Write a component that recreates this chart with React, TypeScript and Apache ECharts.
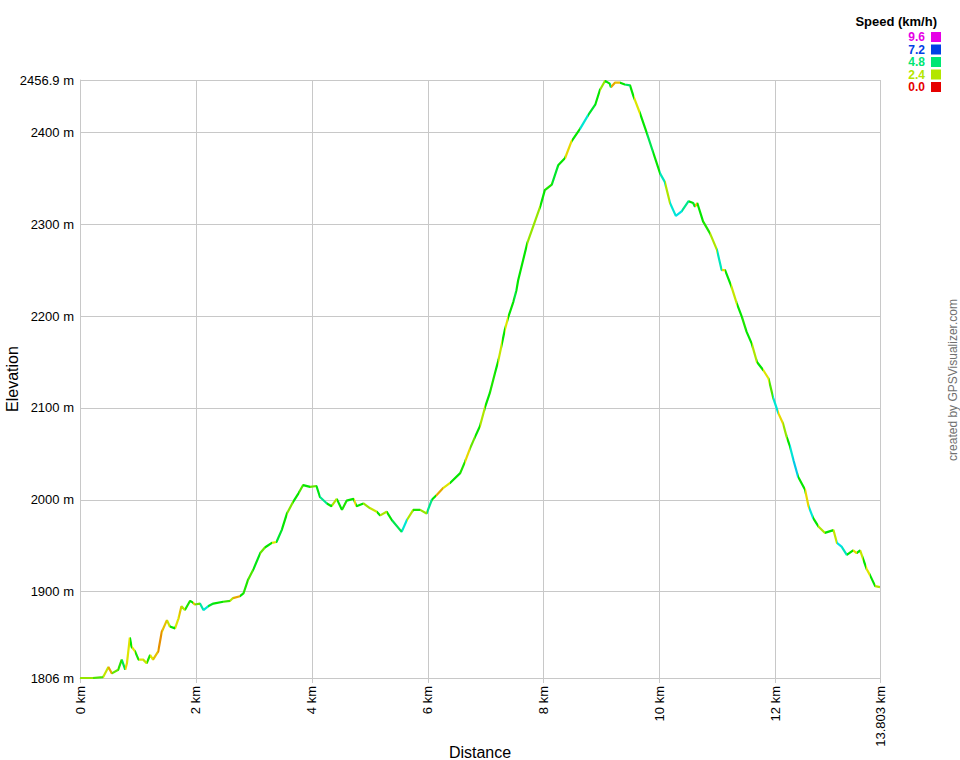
import React, { useEffect, useRef } from "react";
import * as echarts from "echarts";

// Distance along the track (km)
const distanceKm = [
  0, 0.22, 0.4, 0.49, 0.55, 0.66, 0.72, 0.78, 0.81, 0.86, 0.89, 0.95, 1.01, 1.09, 1.15, 1.21,
  1.26, 1.35, 1.41, 1.5, 1.55, 1.64, 1.7, 1.75, 1.81, 1.9, 1.95, 1.98, 2.07, 2.13, 2.21, 2.3,
  2.47, 2.59, 2.64, 2.76, 2.82, 2.9, 2.99, 3.11, 3.19, 3.31, 3.39, 3.48, 3.57, 3.68, 3.77, 3.85,
  3.97, 4.08, 4.14, 4.26, 4.34, 4.43, 4.52, 4.6, 4.72, 4.77, 4.89, 5.0, 5.12, 5.18, 5.29, 5.38,
  5.55, 5.64, 5.75, 5.87, 5.98, 6.07, 6.15, 6.27, 6.38, 6.56, 6.64, 6.73, 6.82, 6.9, 6.99, 7.07,
  7.16, 7.22, 7.28, 7.33, 7.39, 7.48, 7.53, 7.56, 7.72, 7.94, 8.02, 8.14, 8.25, 8.37, 8.48, 8.63,
  8.77, 8.89, 8.97, 9.06, 9.14, 9.16, 9.23, 9.32, 9.4, 9.49, 9.55, 9.66, 9.78, 9.89, 10.01, 10.09,
  10.18, 10.28, 10.38, 10.5, 10.58, 10.61, 10.65, 10.75, 10.87, 10.99, 11.07, 11.13, 11.24, 11.33,
  11.42, 11.5, 11.59, 11.68, 11.79, 11.88, 11.96, 12.05, 12.13, 12.19, 12.25, 12.31, 12.39, 12.51,
  12.57, 12.65, 12.74, 12.85, 13.0, 13.06, 13.14, 13.23, 13.34, 13.4, 13.46, 13.51, 13.57, 13.63,
  13.72, 13.803,
];

// Elevation (m)
const elevationM = [
  1806, 1806, 1807, 1818, 1811, 1815, 1826, 1815, 1822, 1850, 1840, 1835, 1826, 1826, 1822, 1831,
  1826, 1835, 1856, 1869, 1862, 1860, 1871, 1884, 1880, 1890, 1888, 1886, 1887, 1880, 1884, 1887,
  1889, 1890, 1893, 1895, 1898, 1913, 1924, 1942, 1948, 1953, 1954, 1967, 1985, 1998, 2007, 2016,
  2014, 2015, 2003, 1996, 1993, 2001, 1989, 1999, 2001, 1993, 1996, 1991, 1987, 1983, 1987, 1978,
  1965, 1978, 1989, 1989, 1985, 2000, 2005, 2013, 2018, 2029, 2041, 2056, 2069, 2080, 2101, 2116,
  2138, 2152, 2170, 2185, 2199, 2216, 2228, 2239, 2280, 2319, 2337, 2343, 2364, 2372, 2390, 2404,
  2419, 2430, 2446, 2456, 2453, 2449, 2454, 2454, 2452, 2451, 2439, 2421, 2399, 2378, 2355, 2346,
  2323, 2309, 2314, 2325, 2323, 2319, 2323, 2303, 2290, 2272, 2250, 2250, 2232, 2214,
  2199, 2183, 2170, 2150, 2141, 2132, 2111, 2094, 2083, 2069, 2058, 2043, 2025, 2011,
  1993, 1980, 1971, 1964, 1967, 1953, 1949, 1940, 1945, 1942, 1945, 1936, 1925, 1918,
  1906, 1905,
];

// Speed on each stretch (km/h)
const speedKmh = [
  2.6, 3.2, 2.2, 1.4, 3.0, 3.5, 4.5, 1.8, 2.0, 3.8, 2.0, 3.6, 2.0, 2.2, 3.6, 2.0,
  1.6, 1.2, 1.6, 2.2, 3.8, 2.0, 1.6, 2.4, 3.6, 3.8, 1.6, 3.0, 5.2, 5.6, 4.2, 3.8,
  3.4, 2.4, 1.4, 3.8, 3.6, 3.2, 4.0, 3.0, 3.8, 2.0, 4.2, 3.8, 2.8, 3.8, 3.2, 3.8,
  3.0, 4.0, 5.0, 3.8, 2.4, 3.8, 3.6, 3.8, 1.8, 3.8, 2.6, 2.2, 3.8, 2.4, 3.8, 4.5,
  5.6, 2.4, 3.6, 2.6, 5.0, 3.8, 1.4, 2.0, 3.8, 3.6, 1.8, 3.0, 3.8, 2.4, 3.8, 3.6,
  3.8, 2.2, 3.8, 2.0, 3.8, 4.4, 3.8, 3.8, 2.6, 3.8, 3.6, 4.2, 3.8, 1.8, 3.8, 5.6,
  4.2, 3.8, 2.6, 3.8, 4.8, 1.4, 1.6, 3.8, 4.6, 3.8, 2.0, 3.8, 4.5, 3.8, 5.4, 2.4,
  5.6, 5.8, 5.0, 3.8, 4.2, 1.6, 3.8, 3.6, 2.4, 5.4, 1.8, 3.8, 2.2, 3.8,
  3.6, 3.8, 2.4, 3.8, 2.0, 3.2, 5.6, 1.8, 2.6, 3.8, 5.6, 6.0, 3.8, 1.8,
  5.6, 3.8, 2.4, 3.8, 2.2, 5.8, 5.4, 3.8, 1.8, 3.8, 2.2, 3.8, 2.0, 3.8,
  2.4, 1.0,
];

// Legend scale
const legendSpeeds = ["9.6", "7.2", "4.8", "2.4", "0.0"];
const legendColors = ["#e600e6", "#0040e6", "#00e673", "#b3e600", "#e60000"];

const FONT = "'Liberation Sans', Arial, Helvetica, sans-serif";
const GRID_COLOR = "#c8c8c8";

function speedColor(s: number): string {
  const h = Math.max(0, Math.min(1, s / 9.6)) * 300;
  const v = 230;
  const x = Math.round((1 - Math.abs(((h / 60) % 2) - 1)) * v);
  let rgb: number[];
  if (h < 60) rgb = [v, x, 0];
  else if (h < 120) rgb = [x, v, 0];
  else if (h < 180) rgb = [0, v, x];
  else if (h < 240) rgb = [0, x, v];
  else if (h < 300) rgb = [x, 0, v];
  else rgb = [v, 0, v];
  return "#" + rgb.map((c) => c.toString(16).padStart(2, "0")).join("");
}

export default function App() {
  const ref = useRef<HTMLDivElement>(null);

  useEffect(() => {
    if (!ref.current) return;
    const chart = echarts.init(ref.current, undefined, { renderer: "svg" });

    const seriesData = distanceKm.map((d, i) => [d, elevationM[i]]);
    const pieces = distanceKm.slice(0, -1).map((d, i) => {
      const last = i === distanceKm.length - 2;
      const p: any = { gte: d, color: speedColor(speedKmh[i]) };
      if (last) p.lte = distanceKm[i + 1];
      else p.lt = distanceKm[i + 1];
      return p;
    });

    const legendGraphics: any[] = [
      {
        type: "text",
        x: 937,
        y: 21,
        style: {
          text: "Speed (km/h)",
          font: `bold 13px ${FONT}`,
          fill: "#000",
          align: "right",
          verticalAlign: "middle",
        },
      },
    ];
    legendSpeeds.forEach((label, i) => {
      const cy = 37 + i * 12.5;
      legendGraphics.push({
        type: "text",
        x: 925,
        y: cy,
        style: {
          text: label,
          font: `bold 12px ${FONT}`,
          fill: legendColors[i],
          align: "right",
          verticalAlign: "middle",
        },
      });
      legendGraphics.push({
        type: "rect",
        shape: { x: 931, y: cy - 5, width: 10, height: 10 },
        style: { fill: legendColors[i] },
      });
    });
    legendGraphics.push({
      type: "text",
      x: 953,
      y: 380,
      rotation: Math.PI / 2,
      style: {
        text: "created by GPSVisualizer.com",
        font: `12px ${FONT}`,
        fill: "#707070",
        align: "center",
        verticalAlign: "middle",
      },
    });

    chart.setOption({
      animation: false,
      backgroundColor: "#fff",
      textStyle: { fontFamily: FONT },
      grid: {
        left: 80,
        right: 80,
        top: 80,
        bottom: 82,
        containLabel: false,
        outerBoundsMode: "none",
      },
      xAxis: {
        type: "value",
        min: 0,
        max: 13.803,
        interval: 2,
        name: "Distance",
        nameLocation: "middle",
        nameGap: 66,
        nameMoveOverlap: false,
        nameTextStyle: { fontSize: 16, color: "#000", fontFamily: FONT },
        axisLine: { show: true, lineStyle: { color: GRID_COLOR, width: 1 } },
        axisTick: { show: true, length: 5, lineStyle: { color: GRID_COLOR } },
        axisLabel: {
          rotate: 90,
          margin: 8,
          fontSize: 13,
          color: "#000",
          fontFamily: FONT,
          showMinLabel: true,
          showMaxLabel: true,
          formatter: (v: number) => `${v} km`,
        },
        splitLine: { show: true, lineStyle: { color: GRID_COLOR, width: 1 } },
      },
      yAxis: {
        type: "value",
        min: 1806,
        max: 2456.9,
        name: "Elevation",
        nameLocation: "middle",
        nameGap: 60,
        nameMoveOverlap: false,
        nameTextStyle: { fontSize: 16, color: "#000", fontFamily: FONT },
        axisLine: { show: true, lineStyle: { color: GRID_COLOR, width: 1 } },
        axisTick: { show: false },
        axisLabel: {
          margin: 6,
          fontSize: 13,
          color: "#000",
          fontFamily: FONT,
          showMinLabel: true,
          showMaxLabel: true,
          formatter: (v: number) => `${v} m`,
        },
        splitLine: { show: true, lineStyle: { color: GRID_COLOR, width: 1 } },
      },
      visualMap: {
        type: "piecewise",
        show: false,
        seriesIndex: 0,
        dimension: 0,
        pieces,
      },
      graphic: legendGraphics,
      series: [
        {
          type: "line",
          data: seriesData,
          showSymbol: false,
          symbol: "none",
          lineStyle: { width: 2.2 },
          z: 5,
        },
      ],
    });

    return () => chart.dispose();
  }, []);

  return (
    <div
      ref={ref}
      style={{ position: "absolute", left: 0, top: 0, width: 960, height: 760 }}
    />
  );
}
